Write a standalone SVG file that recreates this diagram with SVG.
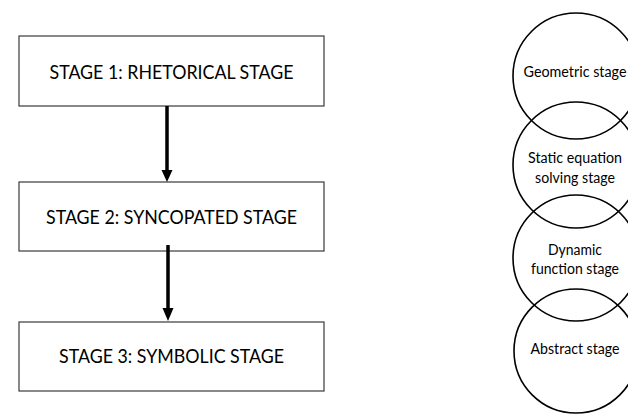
<svg xmlns="http://www.w3.org/2000/svg" width="628" height="414" viewBox="0 0 628 414">
  <style>
    .box { fill: #ffffff; stroke: #3a3a3a; stroke-width: 1.2; }
    .ring { fill: none; stroke: #000000; stroke-width: 1.6; }
    .label { font-family: Lato, "Open Sans", "Liberation Sans", sans-serif; fill: #000000; text-anchor: middle; }
    .big { font-size: 19px; }
    .small { font-size: 14.5px; }
    .edge { stroke: #000000; stroke-width: 3.5; fill: none; }
    .head { fill: #000000; }
  </style>

  <rect width="628" height="414" fill="#ffffff"/>

  <!-- stage boxes -->
  <g id="stage1">
    <rect class="box" x="19" y="36" width="305" height="70"/>
    <text class="label big" x="171.5" y="79" textLength="244" lengthAdjust="spacingAndGlyphs">STAGE 1: RHETORICAL STAGE</text>
  </g>
  <g id="stage2">
    <rect class="box" x="19" y="182" width="305" height="69"/>
    <text class="label big" x="171.5" y="224" textLength="251" lengthAdjust="spacingAndGlyphs">STAGE 2: SYNCOPATED STAGE</text>
  </g>
  <g id="stage3">
    <rect class="box" x="19" y="322" width="305" height="69"/>
    <text class="label big" x="171.5" y="363" textLength="225" lengthAdjust="spacingAndGlyphs">STAGE 3: SYMBOLIC STAGE</text>
  </g>

  <!-- connectors between stages -->
  <g id="connectors">
    <line class="edge" x1="167" y1="106" x2="167" y2="172"/>
    <polygon class="head" points="161.5,170 172.5,170 167,182"/>
    <line class="edge" x1="168" y1="245" x2="168" y2="310"/>
    <polygon class="head" points="162.5,308 173.5,308 168,321"/>
  </g>

  <!-- overlapping stage circles -->
  <g id="geometric">
    <circle class="ring" cx="576" cy="76" r="63"/>
    <text class="label small" x="575" y="77" textLength="103" lengthAdjust="spacingAndGlyphs">Geometric stage</text>
  </g>
  <g id="static-equation">
    <circle class="ring" cx="576" cy="165" r="63"/>
    <text class="label small" x="575" y="163" textLength="94" lengthAdjust="spacingAndGlyphs">Static equation</text>
    <text class="label small" x="575" y="183" textLength="80" lengthAdjust="spacingAndGlyphs">solving stage</text>
  </g>
  <g id="dynamic-function">
    <circle class="ring" cx="576" cy="258" r="63"/>
    <text class="label small" x="575" y="255" textLength="54" lengthAdjust="spacingAndGlyphs">Dynamic</text>
    <text class="label small" x="575" y="274" textLength="88" lengthAdjust="spacingAndGlyphs">function stage</text>
  </g>
  <g id="abstract">
    <circle class="ring" cx="576" cy="351" r="62"/>
    <text class="label small" x="575" y="354" textLength="89" lengthAdjust="spacingAndGlyphs">Abstract stage</text>
  </g>
</svg>
